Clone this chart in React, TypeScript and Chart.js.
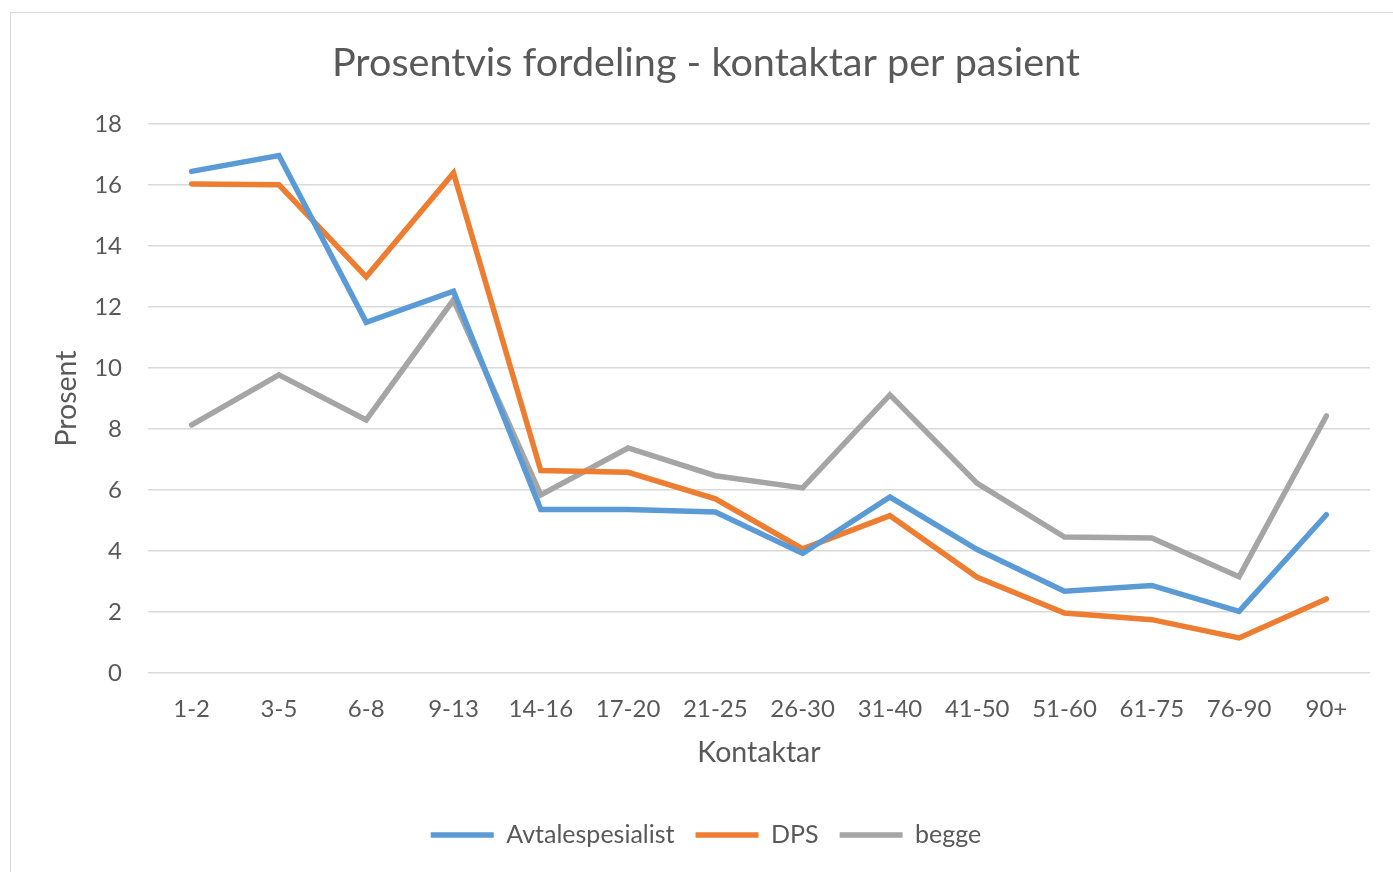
import React, { useEffect, useRef } from "react";
import { Chart, registerables } from "chart.js";

Chart.register(...registerables);

const categories = ["1-2", "3-5", "6-8", "9-13", "14-16", "17-20", "21-25", "26-30", "31-40", "41-50", "51-60", "61-75", "76-90", "90+"];
const avtalespesialist = [16.45, 16.97, 11.5, 12.52, 5.36, 5.36, 5.28, 3.92, 5.77, 4.05, 2.68, 2.87, 2.02, 5.19];
const dps = [16.04, 16.01, 12.99, 16.4, 6.64, 6.58, 5.71, 4.07, 5.16, 3.14, 1.97, 1.75, 1.15, 2.43];
const begge = [8.14, 9.78, 8.3, 12.24, 5.84, 7.38, 6.47, 6.07, 9.12, 6.22, 4.46, 4.43, 3.16, 8.43];
const yTicks = [0, 2, 4, 6, 8, 10, 12, 14, 16, 18];

const FONT = "Lato, 'Open Sans', sans-serif";
const TEXT = "#595959";
const GRID = "#d9d9d9";

export default function App() {
  const ref = useRef<HTMLCanvasElement | null>(null);
  useEffect(() => {
    if (!ref.current) return;
    const mk = (label: string, data: number[], color: string) => ({
      label,
      data,
      borderColor: color,
      backgroundColor: color,
      borderWidth: 5.5,
      pointRadius: 0,
      pointHoverRadius: 0,
      tension: 0,
      borderCapStyle: "round" as const,
      borderJoinStyle: "miter" as const,
      fill: false,
    });
    const chart = new Chart(ref.current, {
      type: "line",
      data: {
        labels: categories,
        datasets: [
          mk("Avtalespesialist", avtalespesialist, "#5B9BD5"),
          mk("DPS", dps, "#ED7D31"),
          mk("begge", begge, "#A5A5A5"),
        ],
      },
      options: {
        animation: false,
        responsive: false,
        maintainAspectRatio: false,
        layout: { padding: { left: 42, right: 23, top: 0, bottom: 14.5 } },
        plugins: {
          title: {
            display: true,
            text: "Prosentvis fordeling - kontaktar per pasient",
            color: TEXT,
            font: { family: FONT, size: 39.6, weight: "normal" },
            padding: { top: 39.3, bottom: 37.3 },
          },
          legend: {
            position: "bottom",
            labels: {
              color: TEXT,
              font: { family: FONT, size: 25 },
              usePointStyle: true,
              pointStyle: "line",
              pointStyleWidth: 63,
              boxHeight: 5,
              padding: 21,
            },
          },
          tooltip: { enabled: false },
        },
        scales: {
          x: {
            offset: true,
            grid: { display: false, drawTicks: false },
            border: { display: false },
            ticks: { color: TEXT, font: { family: FONT, size: 24 }, padding: 21.6, maxRotation: 0, autoSkip: false },
            title: {
              display: true,
              text: "Kontaktar",
              color: TEXT,
              font: { family: FONT, size: 28.5 },
              padding: { top: 0, bottom: 31.4 },
            },
            afterFit: (s: any) => {
              s.height = 128.5;
            },
          },
          y: {
            min: 0,
            max: 18,
            afterBuildTicks: (s: any) => {
              s.ticks = yTicks.map((v) => ({ value: v }));
            },
            grid: { color: GRID, lineWidth: 1.5, drawTicks: false },
            border: { display: false },
            ticks: { color: TEXT, font: { family: FONT, size: 24 }, padding: 26 },
            title: {
              display: true,
              text: "Prosent",
              color: TEXT,
              font: { family: FONT, size: 28.5 },
              padding: { top: 7.9, bottom: 0 },
            },
            afterFit: (s: any) => {
              s.width = 106;
            },
          },
        },
      },
    });
    return () => chart.destroy();
  }, []);

  return (
    <div>
      <div
        style={{
          position: "fixed",
          left: 10,
          top: 12,
          width: 1420,
          height: 900,
          border: "1.5px solid #d9d9d9",
          background: "#ffffff",
          boxSizing: "border-box",
        }}
      />
      <canvas
        ref={ref}
        width={1393}
        height={872}
        style={{ position: "fixed", left: 0, top: 0, width: 1393, height: 872 }}
      />
    </div>
  );
}
